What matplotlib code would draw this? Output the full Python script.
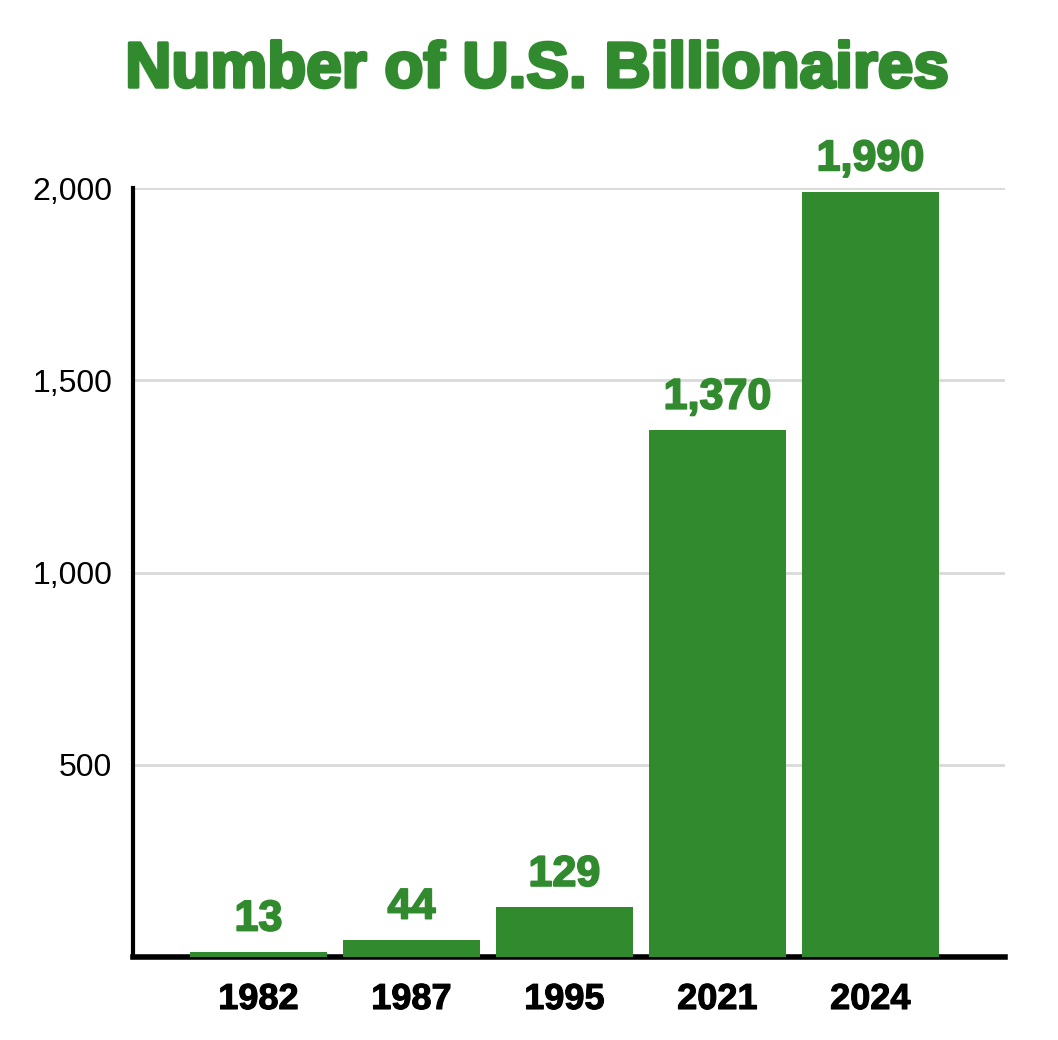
import matplotlib
matplotlib.use("Agg")
import matplotlib.pyplot as plt
import matplotlib.patheffects as pe

years = ["1982", "1987", "1995", "2021", "2024"]
billionaires = [13, 44, 129, 1370, 1990]
value_labels = ["13", "44", "129", "1,370", "1,990"]
yticks = [500, 1000, 1500, 2000]
ytick_labels = ["500", "1,000", "1,500", "2,000"]

GREEN = "#318a2e"
FONT = "Liberation Sans"

fig = plt.figure(figsize=(10.58, 10.40), dpi=100)
ax = fig.add_axes([133/1058, 83/1040, (1005-133)/1058, (957-188)/1040])

x = list(range(len(years)))
bars = ax.bar(x, billionaires, width=0.9, color=GREEN, zorder=3)

for xi, v, lab in zip(x, billionaires, value_labels):
    ax.annotate(lab, (xi, v), xytext=(0, 9), textcoords="offset points",
                ha="center", va="bottom", color=GREEN, fontsize=31,
                fontweight="bold", family=FONT,
                path_effects=[pe.withStroke(linewidth=1.3, foreground=GREEN)])

ax.set_xlim(-0.82, 4.88)
ax.set_ylim(0, 2000)
ax.set_xticks(x)
ax.set_xticklabels(years, fontsize=26, fontweight="bold", family=FONT)
for t in ax.get_xticklabels():
    t.set_path_effects([pe.withStroke(linewidth=0.8, foreground="black")])
ax.set_yticks(yticks)
ax.set_yticklabels(ytick_labels, fontsize=23, family=FONT)
ax.tick_params(axis="both", length=0)
ax.tick_params(axis="x", pad=18)
ax.tick_params(axis="y", pad=15)

ax.yaxis.grid(True, color="#d9d9d9", linewidth=2, zorder=0)
ax.set_axisbelow(True)
for s in ["top", "right"]:
    ax.spines[s].set_visible(False)
ax.spines["left"].set_linewidth(3)
ax.spines["bottom"].set_linewidth(4)
ax.spines["left"].set_color("black")
ax.spines["bottom"].set_color("black")

fig.text(537/1058, 1 - 87/1040, "Number of U.S. Billionaires", ha="center",
         va="baseline", color=GREEN, fontsize=46, fontweight="bold", family=FONT,
         path_effects=[pe.withStroke(linewidth=2.5, foreground=GREEN)])

fig.savefig("out.png", dpi=100, facecolor="white")
